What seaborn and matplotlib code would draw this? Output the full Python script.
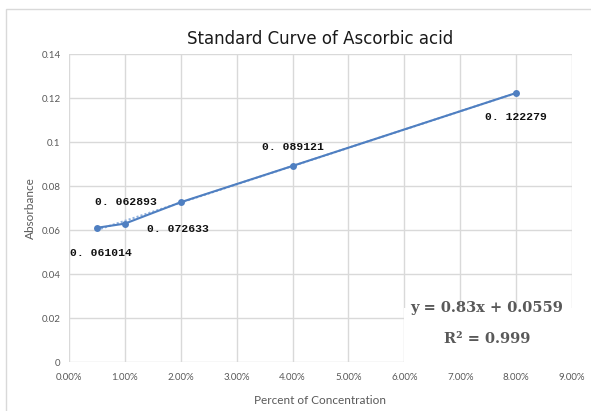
import matplotlib
matplotlib.use("Agg")
import matplotlib.pyplot as plt
import seaborn as sns
import pandas as pd
from matplotlib.ticker import FuncFormatter, MultipleLocator
from matplotlib.patches import Rectangle

concentration = [0.005, 0.01, 0.02, 0.04, 0.08]
absorbance = [0.061014, 0.062893, 0.072633, 0.089121, 0.122279]
point_labels = ["0. 061014", "0. 062893", "0. 072633", "0. 089121", "0. 122279"]
label_offsets = [(4, -25), (1, 22), (-3, -27), (0, 19), (0, -24)]
equation_text = "y = 0.83x + 0.0559"
r2_text = "R² = 0.999"

df = pd.DataFrame({"conc": concentration, "abs": absorbance})

sns.set_style("white")
plt.rcParams['font.family'] = ['Lato', 'DejaVu Sans']

fig = plt.figure(figsize=(5.91, 4.11), dpi=100)
ax = fig.add_axes([69/591, 1-362/411, (572-69)/591, (362-54)/411])

blue = "#4f7fc1"
sns.regplot(data=df, x="conc", y="abs", ax=ax, scatter=False, ci=None,
            line_kws=dict(color="#8fb0dd", lw=1.5, linestyle=(0, (1, 1)), zorder=2))
sns.lineplot(data=df, x="conc", y="abs", ax=ax, color=blue, lw=1.5,
             marker="o", markersize=5, markeredgewidth=0, zorder=3)

for x, y, t, off in zip(concentration, absorbance, point_labels, label_offsets):
    ax.annotate(t, (x, y), xytext=off, textcoords="offset pixels",
                ha="center", va="center", fontsize=8.2, fontweight="bold",
                family="Liberation Mono", color="#111111", zorder=5)

ax.set_xlim(0, 0.09)
ax.set_ylim(0, 0.14)
ax.xaxis.set_major_locator(MultipleLocator(0.01))
ax.yaxis.set_major_locator(MultipleLocator(0.02))
ax.xaxis.set_major_formatter(FuncFormatter(lambda v, p: f"{v*100:.2f}%"))
def yfmt(v, p):
    s = f"{v:.2f}".rstrip("0").rstrip(".")
    return s if s else "0"
ax.yaxis.set_major_formatter(FuncFormatter(yfmt))
ax.grid(True, color="#d9d9d9", lw=1)
ax.set_axisbelow(True)
for s in ax.spines.values():
    s.set_visible(False)
ax.tick_params(length=0, labelsize=7, colors="#595959")
ax.tick_params(axis="x", pad=8)
ax.tick_params(axis="y", pad=6)

ax.set_xlabel("Percent of Concentration", fontsize=8.5, color="#595959", labelpad=9)
ax.set_ylabel("Absorbance", fontsize=8.5, color="#595959", labelpad=4)
fig.text(320/591, 1-39/411, "Standard Curve of Ascorbic acid", ha="center", va="center",
         fontsize=12, family="DejaVu Sans", color="#1a1a1a")

# equation box covering gridlines
box = Rectangle((0.06, 0), 0.03, 0.0247, facecolor="white", edgecolor="none", zorder=1.5)
ax.add_patch(box)
ax.text(487/591, 1-308/411, equation_text, transform=fig.transFigure, ha="center", va="center",
        fontsize=10.5, fontweight="bold", family="DejaVu Serif", color="#595959", zorder=6)
ax.text(487/591, 1-339/411, r2_text, transform=fig.transFigure, ha="center", va="center",
        fontsize=10.5, fontweight="bold", family="DejaVu Serif", color="#595959", zorder=6)

fig.patches.append(Rectangle((6/591, -0.1), 1.2, 1-9/411+0.1, transform=fig.transFigure,
                             fill=False, edgecolor="#d9d9d9", lw=1))

fig.savefig("out.png", dpi=100)
